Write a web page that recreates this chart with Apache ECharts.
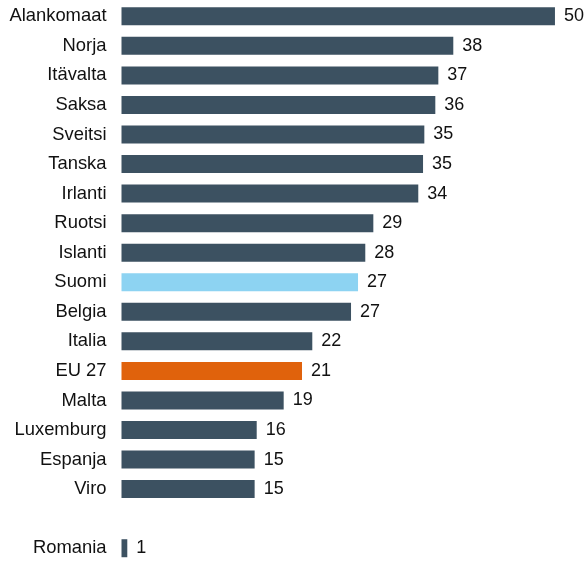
<!DOCTYPE html>
<html>
<head>
<meta charset="utf-8">
<script src="https://cdn.jsdelivr.net/npm/echarts@6/dist/echarts.min.js"></script>
<style>
html,body{margin:0;padding:0;background:#fff;}
#chart{width:587px;height:563px;}
</style>
</head>
<body>
<div id="chart"></div>
<script>
const categories = ["Alankomaat","Norja","Itävalta","Saksa","Sveitsi","Tanska","Irlanti","Ruotsi","Islanti","Suomi","Belgia","Italia","EU 27","Malta","Luxemburg","Espanja","Viro","","Romania"];
const values = [50.14,38.38,36.65,36.30,35.03,34.88,34.33,29.13,28.20,27.36,26.55,22.07,20.88,18.76,15.64,15.4,15.4,null,0.67];
const colorDefault = "#3c5161";
const highlightColors = {"Suomi":"#8dd3f2","EU 27":"#e0620c"};

const chart = echarts.init(document.getElementById('chart'), null, {renderer:'canvas'});
const data = values.map((v,i)=>({
  value: v,
  itemStyle: {color: highlightColors[categories[i]] || colorDefault}
}));
chart.setOption({
  animation:false,
  grid:{left:121.5, top:1.5, width:449.54, height:563, containLabel:false},
  xAxis:{type:'value', min:0, max:52, show:false},
  yAxis:{type:'category', data:categories, inverse:true,
    axisLine:{show:false}, axisTick:{show:false}, splitLine:{show:false},
    axisLabel:{margin:15, color:'#111', fontSize:18.4, fontFamily:'Liberation Sans, Arial, sans-serif'}},
  series:[{type:'bar', data:data, barWidth:18,
    label:{show:true, position:'right', distance:9, color:'#111', fontSize:18,
      fontFamily:'Liberation Sans, Arial, sans-serif',
      formatter:p=>p.value==null?'':String(Math.round(p.value))}}]
});
</script>
</body>
</html>
